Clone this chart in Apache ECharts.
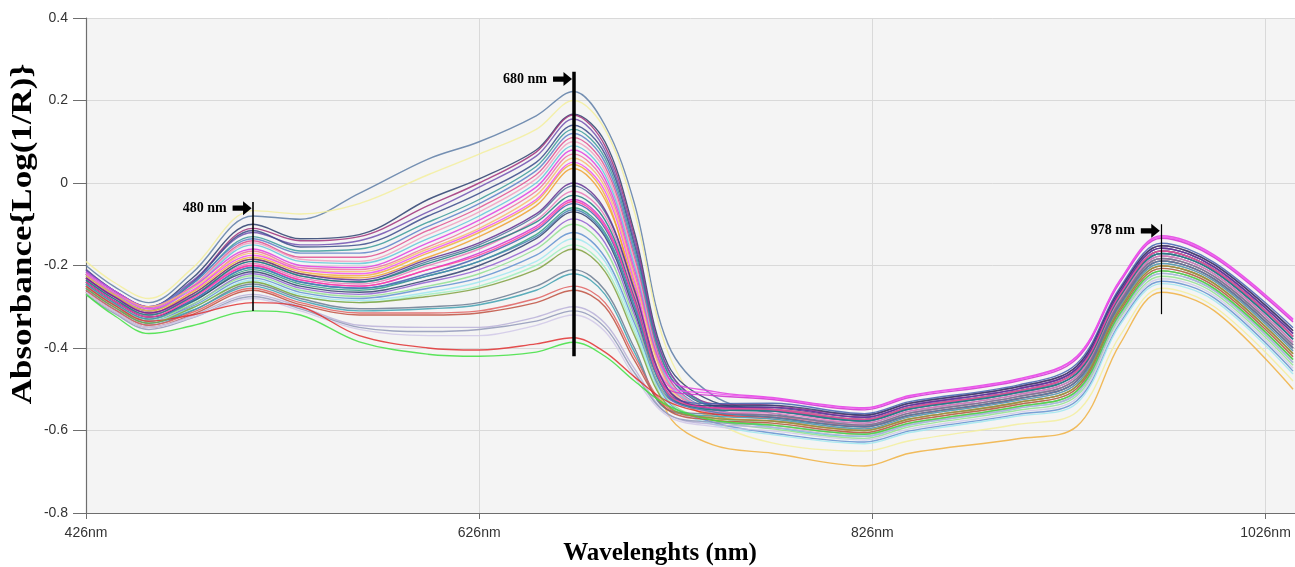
<!DOCTYPE html>
<html>
<head>
<meta charset="utf-8">
<script src="https://cdn.jsdelivr.net/npm/echarts@6/dist/echarts.min.js"></script>
<style>
html,body{margin:0;padding:0;background:#fff;}
#chart{width:1295px;height:567px;}
</style>
</head>
<body>
<div id="chart"></div>
<script>
// Wavelength sample points (nm, on the chart's own axis scale)
const wavelengths = [426, 440, 458, 480, 511, 535, 565, 600, 626, 655, 674, 690, 705, 722, 745, 775, 822, 845, 900, 930, 952, 973, 1000, 1040];

// Spectra (Absorbance, log(1/R))
const spec01 = [-0.20,-0.25,-0.29,-0.218,-0.08,-0.088,-0.025,0.058,0.10,0.163,0.222,0.14,-0.05,-0.39,-0.515,-0.558,-0.582,-0.553,-0.513,-0.468,-0.281,-0.177,-0.221,-0.386];
const spec02 = [-0.19,-0.24,-0.28,-0.207,-0.067,-0.075,-0.05,0.02,0.07,0.13,0.20,0.13,-0.07,-0.41,-0.57,-0.63,-0.65,-0.625,-0.585,-0.555,-0.37,-0.255,-0.30,-0.48];
const spec03 = [-0.21,-0.26,-0.30,-0.231,-0.10,-0.135,-0.125,-0.04,0.01,0.08,0.167,0.10,-0.12,-0.44,-0.53,-0.549,-0.573,-0.544,-0.504,-0.456,-0.270,-0.165,-0.210,-0.372];
const spec04 = [-0.22,-0.27,-0.31,-0.241,-0.11,-0.14,-0.13,-0.055,0.0,0.075,0.165,0.09,-0.13,-0.45,-0.535,-0.539,-0.563,-0.534,-0.494,-0.444,-0.258,-0.152,-0.198,-0.358];
const spec05 = [-0.21,-0.26,-0.30,-0.238,-0.12,-0.15,-0.14,-0.07,-0.01,0.065,0.155,0.08,-0.14,-0.45,-0.54,-0.553,-0.577,-0.548,-0.508,-0.462,-0.275,-0.171,-0.215,-0.379];
const spec06 = [-0.22,-0.27,-0.31,-0.243,-0.115,-0.155,-0.15,-0.08,-0.025,0.05,0.14,0.07,-0.15,-0.46,-0.54,-0.544,-0.568,-0.539,-0.499,-0.450,-0.264,-0.158,-0.204,-0.365];
const spec07 = [-0.22,-0.265,-0.305,-0.245,-0.13,-0.165,-0.16,-0.095,-0.04,0.04,0.13,0.06,-0.16,-0.46,-0.545,-0.568,-0.591,-0.563,-0.523,-0.480,-0.293,-0.189,-0.233,-0.400];
const spec08 = [-0.215,-0.26,-0.30,-0.243,-0.135,-0.17,-0.17,-0.105,-0.05,0.03,0.12,0.05,-0.17,-0.47,-0.55,-0.563,-0.587,-0.558,-0.518,-0.474,-0.287,-0.183,-0.227,-0.393];
const spec09 = [-0.23,-0.275,-0.31,-0.251,-0.14,-0.18,-0.18,-0.115,-0.06,0.02,0.11,0.04,-0.18,-0.47,-0.55,-0.549,-0.573,-0.544,-0.504,-0.456,-0.270,-0.165,-0.210,-0.372];
const spec10 = [-0.22,-0.27,-0.305,-0.250,-0.145,-0.185,-0.19,-0.125,-0.07,0.01,0.10,0.03,-0.19,-0.475,-0.555,-0.572,-0.596,-0.567,-0.527,-0.486,-0.298,-0.195,-0.238,-0.407];
const spec11 = [-0.225,-0.27,-0.31,-0.255,-0.15,-0.19,-0.195,-0.135,-0.08,0.0,0.09,0.02,-0.20,-0.48,-0.56,-0.592,-0.614,-0.586,-0.546,-0.510,-0.321,-0.219,-0.261,-0.435];
const spec12 = [-0.215,-0.26,-0.30,-0.252,-0.16,-0.20,-0.205,-0.145,-0.09,-0.01,0.08,0.01,-0.21,-0.47,-0.505,-0.52,-0.545,-0.515,-0.475,-0.42,-0.235,-0.128,-0.175,-0.33];
const spec13 = [-0.23,-0.275,-0.315,-0.263,-0.165,-0.205,-0.21,-0.155,-0.10,-0.02,0.07,0.0,-0.22,-0.485,-0.555,-0.563,-0.587,-0.558,-0.518,-0.474,-0.287,-0.183,-0.227,-0.393];
const spec14 = [-0.22,-0.265,-0.30,-0.255,-0.17,-0.21,-0.215,-0.16,-0.11,-0.03,0.06,-0.01,-0.23,-0.49,-0.57,-0.587,-0.609,-0.582,-0.542,-0.504,-0.316,-0.213,-0.256,-0.428];
const spec15 = [-0.225,-0.27,-0.31,-0.265,-0.18,-0.215,-0.225,-0.17,-0.12,-0.045,0.045,-0.03,-0.27,-0.56,-0.635,-0.655,-0.686,-0.655,-0.62,-0.59,-0.39,-0.265,-0.31,-0.50];
const spec16 = [-0.23,-0.275,-0.315,-0.270,-0.185,-0.22,-0.23,-0.18,-0.13,-0.055,0.035,-0.04,-0.25,-0.50,-0.565,-0.577,-0.600,-0.572,-0.532,-0.492,-0.304,-0.201,-0.244,-0.414];
const spec17 = [-0.235,-0.28,-0.32,-0.275,-0.19,-0.225,-0.24,-0.19,-0.15,-0.08,-0.007,-0.07,-0.26,-0.50,-0.55,-0.553,-0.577,-0.548,-0.508,-0.462,-0.275,-0.171,-0.215,-0.379];
const spec18 = [-0.24,-0.285,-0.32,-0.277,-0.195,-0.23,-0.245,-0.20,-0.16,-0.09,-0.02,-0.08,-0.27,-0.505,-0.555,-0.558,-0.582,-0.553,-0.513,-0.468,-0.281,-0.177,-0.221,-0.386];
const spec19 = [-0.23,-0.275,-0.315,-0.275,-0.20,-0.235,-0.25,-0.21,-0.17,-0.105,-0.04,-0.10,-0.28,-0.50,-0.515,-0.525,-0.550,-0.520,-0.480,-0.426,-0.241,-0.134,-0.181,-0.337];
const spec20 = [-0.24,-0.285,-0.325,-0.284,-0.205,-0.24,-0.255,-0.22,-0.18,-0.115,-0.05,-0.11,-0.29,-0.51,-0.535,-0.534,-0.559,-0.530,-0.490,-0.438,-0.253,-0.146,-0.193,-0.351];
const spec21 = [-0.245,-0.29,-0.33,-0.289,-0.21,-0.245,-0.26,-0.225,-0.19,-0.125,-0.06,-0.12,-0.30,-0.515,-0.545,-0.549,-0.573,-0.544,-0.504,-0.456,-0.270,-0.165,-0.210,-0.372];
const spec22 = [-0.24,-0.285,-0.325,-0.287,-0.215,-0.25,-0.265,-0.235,-0.20,-0.135,-0.07,-0.13,-0.31,-0.52,-0.54,-0.539,-0.563,-0.534,-0.494,-0.444,-0.258,-0.152,-0.198,-0.358];
const spec23 = [-0.25,-0.295,-0.335,-0.295,-0.22,-0.255,-0.27,-0.24,-0.21,-0.15,-0.087,-0.145,-0.32,-0.52,-0.545,-0.544,-0.568,-0.539,-0.499,-0.450,-0.264,-0.158,-0.204,-0.365];
const spec24 = [-0.245,-0.29,-0.33,-0.294,-0.225,-0.26,-0.275,-0.25,-0.22,-0.16,-0.10,-0.16,-0.33,-0.525,-0.575,-0.596,-0.619,-0.591,-0.551,-0.516,-0.327,-0.226,-0.267,-0.442];
const spec25 = [-0.25,-0.295,-0.335,-0.299,-0.23,-0.265,-0.28,-0.255,-0.23,-0.175,-0.12,-0.18,-0.34,-0.53,-0.58,-0.606,-0.628,-0.601,-0.561,-0.528,-0.339,-0.238,-0.279,-0.456];
const spec26 = [-0.255,-0.30,-0.34,-0.304,-0.235,-0.27,-0.285,-0.265,-0.24,-0.19,-0.135,-0.19,-0.35,-0.535,-0.585,-0.610,-0.632,-0.605,-0.565,-0.534,-0.344,-0.244,-0.285,-0.463];
const spec27 = [-0.25,-0.295,-0.335,-0.302,-0.24,-0.275,-0.29,-0.27,-0.25,-0.20,-0.15,-0.205,-0.36,-0.54,-0.57,-0.582,-0.605,-0.577,-0.537,-0.498,-0.310,-0.207,-0.250,-0.421];
const spec28 = [-0.26,-0.305,-0.345,-0.31,-0.245,-0.28,-0.305,-0.30,-0.29,-0.25,-0.21,-0.26,-0.40,-0.55,-0.56,-0.563,-0.587,-0.558,-0.518,-0.474,-0.287,-0.183,-0.227,-0.393];
const spec29 = [-0.255,-0.30,-0.34,-0.309,-0.25,-0.285,-0.31,-0.305,-0.295,-0.26,-0.22,-0.27,-0.41,-0.55,-0.565,-0.572,-0.596,-0.567,-0.527,-0.486,-0.298,-0.195,-0.238,-0.407];
const spec30 = [-0.26,-0.305,-0.345,-0.314,-0.255,-0.29,-0.315,-0.315,-0.31,-0.28,-0.25,-0.29,-0.42,-0.545,-0.57,-0.577,-0.600,-0.572,-0.532,-0.492,-0.304,-0.201,-0.244,-0.414];
const spec31 = [-0.265,-0.31,-0.35,-0.319,-0.26,-0.295,-0.32,-0.32,-0.315,-0.29,-0.26,-0.30,-0.43,-0.55,-0.575,-0.582,-0.605,-0.577,-0.537,-0.498,-0.310,-0.207,-0.250,-0.421];
const spec32 = [-0.265,-0.31,-0.35,-0.322,-0.27,-0.30,-0.345,-0.35,-0.35,-0.325,-0.30,-0.34,-0.45,-0.56,-0.585,-0.592,-0.614,-0.586,-0.546,-0.510,-0.321,-0.219,-0.261,-0.435];
const spec33 = [-0.27,-0.315,-0.355,-0.327,-0.275,-0.305,-0.35,-0.36,-0.355,-0.335,-0.31,-0.35,-0.46,-0.56,-0.58,-0.587,-0.609,-0.582,-0.542,-0.504,-0.316,-0.213,-0.256,-0.428];
const spec34 = [-0.265,-0.31,-0.35,-0.326,-0.28,-0.31,-0.355,-0.37,-0.37,-0.345,-0.32,-0.36,-0.47,-0.565,-0.59,-0.601,-0.623,-0.596,-0.556,-0.522,-0.333,-0.232,-0.273,-0.449];
const spec35 = [-0.25,-0.295,-0.335,-0.32,-0.29,-0.30,-0.37,-0.40,-0.405,-0.39,-0.375,-0.41,-0.47,-0.53,-0.56,-0.568,-0.591,-0.563,-0.523,-0.480,-0.293,-0.189,-0.233,-0.400];
const spec36 = [-0.27,-0.32,-0.365,-0.346,-0.31,-0.32,-0.385,-0.415,-0.42,-0.41,-0.386,-0.42,-0.48,-0.54,-0.575,-0.587,-0.609,-0.582,-0.542,-0.504,-0.316,-0.213,-0.256,-0.428];
const spec37 = [-0.22,-0.265,-0.305,-0.26,-0.175,-0.21,-0.22,-0.165,-0.115,-0.04,0.05,-0.02,-0.24,-0.49,-0.51,-0.522,-0.547,-0.517,-0.477,-0.422,-0.237,-0.131,-0.178,-0.333];
const spec38 = [-0.235,-0.28,-0.32,-0.276,-0.19,-0.225,-0.24,-0.195,-0.155,-0.095,-0.03,-0.09,-0.28,-0.51,-0.55,-0.553,-0.577,-0.548,-0.508,-0.462,-0.275,-0.171,-0.215,-0.379];
const spec39 = [-0.23,-0.275,-0.315,-0.27,-0.185,-0.22,-0.235,-0.185,-0.145,-0.075,0.0,-0.065,-0.26,-0.50,-0.545,-0.544,-0.568,-0.539,-0.499,-0.450,-0.264,-0.158,-0.204,-0.365];
const spec40 = [-0.245,-0.29,-0.33,-0.285,-0.205,-0.24,-0.255,-0.225,-0.19,-0.13,-0.065,-0.125,-0.30,-0.515,-0.555,-0.568,-0.591,-0.563,-0.523,-0.480,-0.293,-0.189,-0.233,-0.400];
const spec41 = [-0.24,-0.285,-0.325,-0.28,-0.20,-0.235,-0.25,-0.21,-0.175,-0.11,-0.045,-0.105,-0.285,-0.51,-0.545,-0.549,-0.573,-0.544,-0.504,-0.456,-0.270,-0.165,-0.210,-0.372];
const spec42 = [-0.255,-0.30,-0.34,-0.303,-0.24,-0.275,-0.29,-0.275,-0.255,-0.21,-0.16,-0.215,-0.37,-0.54,-0.57,-0.577,-0.600,-0.572,-0.532,-0.492,-0.304,-0.201,-0.244,-0.414];

const spectra = [spec01,spec02,spec03,spec04,spec05,spec06,spec07,spec08,spec09,spec10,spec11,spec12,spec13,spec14,
  spec15,spec16,spec17,spec18,spec19,spec20,spec21,spec22,spec23,spec24,spec25,spec26,spec27,spec28,spec29,spec30,
  spec31,spec32,spec33,spec34,spec35,spec36,spec37,spec38,spec39,spec40,spec41,spec42];

const lineColors = ['#5d7ca6','#f3ee9c','#2b3f6e','#a0307a','#7050b0','#3a4a8a','#3a9a9a','#5a80c8','#e05090','#f0a0c0',
  '#60c8d8','#e040e0','#f070a0','#f5c070','#f0b040','#f0a030','#50709a','#e878b8','#d030d0','#4060b0',
  '#30a080','#304070','#9060d0','#90e090','#6090d0','#a0e8f0','#a0f0c0','#6a7a90','#40a0b0','#e06060',
  '#c05040','#b8b0d8','#9098b8','#d0c8e8','#e03030','#40e040','#f050f0','#208080','#603090','#4682b4',
  '#ff40a0','#80a040'];

// Axis ticks
const xTickValues = [426, 626, 826, 1026];
const xTickLabels = ['426nm', '626nm', '826nm', '1026nm'];
const yTickValues = [-0.8, -0.6, -0.4, -0.2, 0, 0.2, 0.4];
const yTickLabels = ['-0.8', '-0.6', '-0.4', '-0.2', '0', '0.2', '0.4'];

// Annotations
const markWave = [511, 674, 973];
const markTop = [-0.046, 0.27, -0.10];
const markBottom = [-0.31, -0.42, -0.318];
const markLabelY = [-0.061, 0.252, -0.116];
const markLabels = ['480 nm', '680 nm', '978 nm'];
const markWidths = [1.6, 3.5, 1.2];

const chart = echarts.init(document.getElementById('chart'), null, {renderer: 'canvas'});

const series = spectra.map((s, i) => ({
  type: 'line',
  data: wavelengths.map((w, j) => [w, s[j]]),
  smooth: 0.35,
  showSymbol: false,
  silent: true,
  lineStyle: {width: 1.4, color: lineColors[i], opacity: 0.85},
  z: 2
}));

const arrowPath = 'path://M0,5 L11,5 L11,0 L20,8 L11,16 L11,11 L0,11 Z';

series.push({
  type: 'line',
  data: [],
  silent: true,
  z: 10,
  markLine: {
    silent: true,
    symbol: ['none', 'none'],
    label: {show: false},
    animation: false,
    data: markWave.map((w, i) => [
      {coord: [w, markTop[i]], lineStyle: {color: '#000', width: markWidths[i], type: 'solid'}},
      {coord: [w, markBottom[i]]}
    ])
  },
  markPoint: {
    silent: true,
    animation: false,
    data: markWave.map((w, i) => ({
      coord: [w, markLabelY[i]],
      symbol: arrowPath,
      symbolSize: [19, 14],
      symbolOffset: [-11, 0],
      itemStyle: {color: '#000'},
      label: {
        show: true,
        position: 'left',
        distance: 6,
        formatter: markLabels[i],
        color: '#000',
        fontFamily: 'Liberation Serif',
        fontWeight: 'bold',
        fontSize: 14
      }
    }))
  }
});

const option = {
  animation: false,
  backgroundColor: '#ffffff',
  grid: {
    left: 86, right: 0, top: 18, bottom: 54,
    show: true, backgroundColor: '#f4f4f4', borderWidth: 0
  },
  xAxis: {
    type: 'value',
    min: 426, max: 1041, interval: 200,
    axisLine: {show: true, onZero: false, lineStyle: {color: '#6e6e6e', width: 1.2}},
    axisTick: {show: true, length: 6, lineStyle: {color: '#6e6e6e'}},
    axisLabel: {
      showMaxLabel: false,
      margin: 13,
      color: '#333',
      fontFamily: 'Liberation Sans',
      fontSize: 14,
      formatter: v => {
        const k = xTickValues.indexOf(Math.round(v));
        return k >= 0 ? xTickLabels[k] : '';
      }
    },
    splitLine: {show: true, lineStyle: {color: '#d9d9d9', width: 1}}
  },
  yAxis: {
    type: 'value',
    min: -0.8, max: 0.4, interval: 0.2,
    axisLine: {show: true, onZero: false, lineStyle: {color: '#6e6e6e', width: 1.2}},
    axisTick: {show: true, length: 13, lineStyle: {color: '#6e6e6e'}},
    axisLabel: {
      margin: 18,
      color: '#333',
      fontFamily: 'Liberation Sans',
      fontSize: 14,
      formatter: v => {
        let k = -1;
        yTickValues.forEach((t, i) => { if (Math.abs(t - v) < 1e-6) k = i; });
        return k >= 0 ? yTickLabels[k] : '';
      }
    },
    splitLine: {show: true, lineStyle: {color: '#d9d9d9', width: 1}}
  },
  graphic: [
    {
      type: 'text',
      x: 23, y: 234,
      rotation: Math.PI / 2,
      scaleY: 0.85,
      style: {
        text: 'Absorbance{Log(1/R)}',
        fontFamily: 'Liberation Serif',
        fontWeight: 'bold',
        fontSize: 35,
        fill: '#000',
        align: 'center',
        verticalAlign: 'middle'
      }
    },
    {
      type: 'text',
      x: 660, y: 554,
      style: {
        text: 'Wavelenghts (nm)',
        fontFamily: 'Liberation Serif',
        fontWeight: 'bold',
        fontSize: 25,
        fill: '#000',
        align: 'center',
        verticalAlign: 'middle'
      }
    }
  ],
  series: series
};

chart.setOption(option);
</script>
</body>
</html>
